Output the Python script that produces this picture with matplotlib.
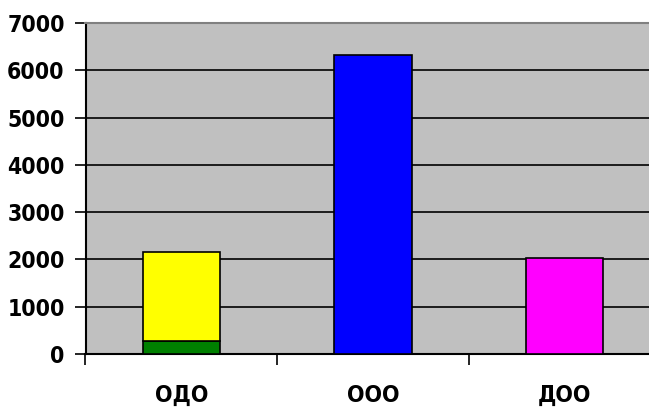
import matplotlib
matplotlib.use("Agg")
import matplotlib.pyplot as plt
import numpy as np

categories = ["ОДО", "ООО", "ДОО"]
base_values = [270, 6330, 2030]
top_values = [1890, 0, 0]
base_colors = ["#008000", "#0000FF", "#FF00FF"]
top_color = "#FFFF00"
yticks = [0, 1000, 2000, 3000, 4000, 5000, 6000, 7000]

fig = plt.figure(figsize=(6.49, 4.08), dpi=100)
ax = fig.add_axes([85.5/649, 54/408, 575/649, 331/408])
ax.set_facecolor("#C0C0C0")

x = np.arange(len(categories))
w = 0.405
ax.bar(x, base_values, width=w, color=base_colors, edgecolor="black", linewidth=1.2, zorder=3)
ax.bar(x[:1], top_values[:1], bottom=base_values[:1], width=w, color=top_color,
       edgecolor="black", linewidth=1.2, zorder=3)

ax.set_xlim(-0.5, 2.5)
ax.set_ylim(0, 7000)
ax.set_yticks(yticks)
ax.set_yticklabels([str(v) for v in yticks], fontsize=16.5, fontweight="bold",
                   fontstretch="condensed")
for v in yticks[1:-1]:
    ax.axhline(v, color="black", linewidth=1.2, zorder=1)

ax.set_xticks([-0.5, 0.5, 1.5, 2.5])
ax.set_xticklabels([])
ax.tick_params(axis="x", direction="out", length=8, width=1.2, colors="black")
ax.tick_params(axis="y", direction="out", length=8, width=1.2, pad=7)
for i, c in enumerate(categories):
    ax.text(i, -0.125, c, transform=ax.get_xaxis_transform(), ha="center", va="center",
            fontsize=16.5, fontweight="bold", fontstretch="condensed")

ax.spines["left"].set_color("black")
ax.spines["left"].set_linewidth(1.5)
ax.spines["bottom"].set_color("black")
ax.spines["bottom"].set_linewidth(1.5)
ax.spines["top"].set_color("#808080")
ax.spines["top"].set_linewidth(1.5)
ax.spines["right"].set_visible(False)

fig.savefig("out.png", dpi=100)
